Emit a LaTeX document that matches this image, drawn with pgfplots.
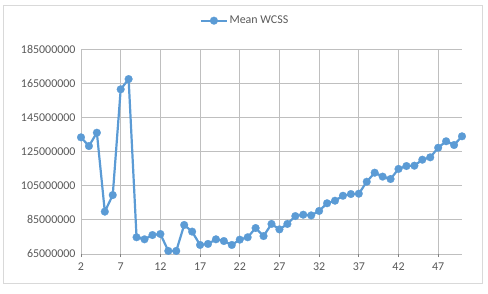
\documentclass[border=0pt]{standalone}
\usepackage{pgfplots}
\pgfplotsset{compat=1.18}
\usepackage{fontspec}
\setmainfont{Carlito}
\definecolor{ser}{HTML}{5B9BD5}
\definecolor{txt}{HTML}{595959}
\definecolor{grid}{HTML}{D9D9D9}
\definecolor{frm}{HTML}{D9D9D9}
\begin{document}
\begin{tikzpicture}
\useasboundingbox (0,0) rectangle (488bp,-294bp);
\draw[frm, line width=0.9bp] (3.5bp,-5bp) rectangle (482bp,-283.5bp);
\begin{axis}[
  at={(81bp,-254bp)}, anchor=south west,
  scale only axis, width=381bp, height=205bp,
  xmin=2, xmax=50, ymin=65000000, ymax=185000000,
  xtick={2,7,...,47}, ytick={65000000,85000000,...,185000000},
  scaled y ticks=false,
  yticklabel style={/pgf/number format/fixed,/pgf/number format/set thousands separator={}},
  /pgf/number format/assume math mode=true,
  ticklabel style={font=\fontsize{12}{14}\selectfont, text=txt},
  xmajorgrids, ymajorgrids,
  major grid style={grid, line width=0.9bp},
  axis line style={draw=none},
  x axis line style={draw=grid},
  tick style={grid, line width=0.9bp},
  xtick pos=bottom, xtick align=outside, major tick length=3bp,
  ytick style={draw=none},
  yticklabel style={xshift=-2bp},
  xticklabel style={yshift=-2bp},
  legend style={at={(0.43,1.0)}, anchor=south, yshift=22bp, draw=none, fill=none,
    font=\fontsize{12}{14}\selectfont, text=txt, legend columns=1,
    inner sep=0pt, nodes={inner sep=1.5bp}},
  legend cell align=left,
  legend image code/.code={
    \draw[mark repeat=2, mark phase=2, #1] plot coordinates {(0bp,0bp) (13bp,0bp) (26bp,0bp)};
  },
]
\addplot[ser, line width=2.2bp, line join=round, mark=*, mark size=3.9bp,
  mark options={solid, fill=ser, draw=ser, line width=0.2bp}] coordinates {
(2,133300000) (3,128200000) (4,136000000) (5,89800000) (6,99500000)
(7,161400000) (8,167400000) (9,74800000) (10,73600000) (11,76100000)
(12,76700000) (13,66800000) (14,66800000) (15,82000000) (16,78100000)
(17,70300000) (18,70900000) (19,73600000) (20,72600000) (21,70300000)
(22,73400000) (23,74800000) (24,80200000) (25,75500000) (26,82600000)
(27,79400000) (28,82600000) (29,87200000) (30,88000000) (31,87600000)
(32,90200000) (33,94700000) (34,96200000) (35,99100000) (36,100100000)
(37,100300000) (38,107300000) (39,112600000) (40,110300000) (41,108900000)
(42,114800000) (43,116500000) (44,116700000) (45,120200000) (46,121600000)
(47,127200000) (48,131000000) (49,128800000) (50,133900000)
};
\addlegendentry{Mean WCSS}
\end{axis}
\end{tikzpicture}
\end{document}
